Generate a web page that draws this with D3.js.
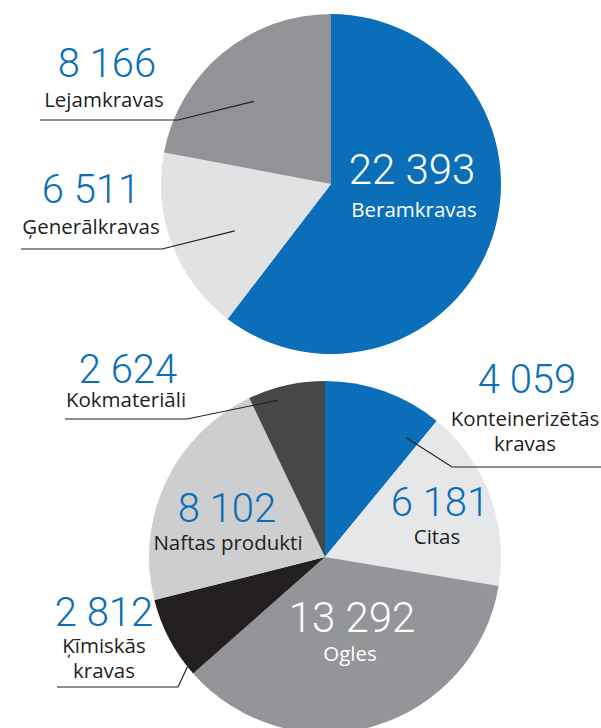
<!DOCTYPE html>
<html>
<head>
<meta charset="utf-8">
<script src="https://cdn.jsdelivr.net/npm/d3@7"></script>
<style>
  html, body { margin: 0; padding: 0; background: #fff; }
  svg { display: block; }
  .num { font-family: Roboto, "Open Sans", sans-serif; font-weight: 300; }
  .lab { font-family: "Open Sans", Roboto, sans-serif; font-weight: 400; }
</style>
</head>
<body>
<svg id="chart" width="601" height="728"></svg>
<script>
// ---- Data ----
const topCategories = ["Beramkravas", "Ģenerālkravas", "Lejamkravas"];
const topValues = [22393, 6511, 8166];
const topLabels = ["22 393", "6 511", "8 166"];

const bottomCategories = ["Konteinerizētās kravas", "Citas", "Ogles", "Ķīmiskās kravas", "Naftas produkti", "Kokmateriāli"];
const bottomValues = [4059, 6181, 13292, 2812, 8102, 2624];
const bottomLabels = ["4 059", "6 181", "13 292", "2 812", "8 102", "2 624"];

// ---- Styles / layout ----
const BLUE = "#0a6fb8";
const INK = "#231f20";
const topColors = [BLUE, "#e1e2e4", "#929397"];
const bottomColors = [BLUE, "#e6e7e9", "#939598", "#231f20", "#cdcecf", "#464749"];

const topPie = { cx: 331, cy: 184, r: 170 };
const bottomPie = { cx: 325, cy: 557, r: 176 };

const LS = 20.5; // label font size

// Label layout: number position, category text lines, colours, leader line (angle in deg, radius fraction, elbow, end x)
const topLayout = [
  { nx: 412, ny: 184, ns: 42, lines: ["Beramkravas"], ly: 217, lx: 414, ncol: "#fff", lcol: "#fff" },
  { nx: 91, ny: 203, ns: 40, lines: ["Ģenerālkravas"], ly: 234, lx: 91, ncol: BLUE, lcol: INK,
    leader: { ang: 244, rf: 0.63, ex: 162, ey: 249, endX: 21 } },
  { nx: 107, ny: 77, ns: 40, lines: ["Lejamkravas"], ly: 107, lx: 104, ncol: BLUE, lcol: INK,
    leader: { ang: 317, rf: 0.665, ex: 178, ey: 120, endX: 40 } }
];
const bottomLayout = [
  { nx: 527, ny: 393, ns: 40, lines: ["Konteinerizētās", "kravas"], ly: 426, lx: 525, lh: 25, ncol: BLUE, lcol: INK,
    leader: { ang: 34.3, rf: 0.82, ex: 452, ey: 467, endX: 601 } },
  { nx: 440, ny: 516, ns: 40, lines: ["Citas"], ly: 544, lx: 437, ncol: BLUE, lcol: INK },
  { nx: 352, ny: 632, ns: 42, lines: ["Ogles"], ly: 661, lx: 350, ncol: "#fff", lcol: "#fff" },
  { nx: 104, ny: 626, ns: 40, lines: ["Ķīmiskās", "kravas"], ly: 653, lx: 104, lh: 24.5, ncol: BLUE, lcol: INK,
    leader: { ang: 231.4, rf: 1.0, ex: 178, ey: 687, endX: 57 } },
  { nx: 227, ny: 522, ns: 40, lines: ["Naftas produkti"], ly: 550, lx: 228, ncol: BLUE, lcol: INK },
  { nx: 128, ny: 383, ns: 40, lines: ["Kokmateriāli"], ly: 407, lx: 126, ncol: BLUE, lcol: INK,
    leader: { ang: 343.3, rf: 0.93, ex: 187, ey: 419, endX: 65 } }
];

const svg = d3.select("#chart");

function drawPie(cats, vals, labels, colors, geo, layout) {
  const pie = d3.pie().sort(null).value(d => d)(vals);
  const arc = d3.arc().innerRadius(0).outerRadius(geo.r);
  const g = svg.append("g").attr("transform", `translate(${geo.cx},${geo.cy})`);
  g.selectAll("path").data(pie).join("path")
    .attr("d", arc)
    .attr("fill", (d, i) => colors[i]);

  const ann = svg.append("g");
  layout.forEach((L, i) => {
    if (L.leader) {
      const p = d3.pointRadial(L.leader.ang * Math.PI / 180, geo.r * L.leader.rf);
      const pts = [[geo.cx + p[0], geo.cy + p[1]], [L.leader.ex, L.leader.ey], [L.leader.endX, L.leader.ey]];
      ann.append("path")
        .attr("d", d3.line()(pts))
        .attr("fill", "none")
        .attr("stroke", INK)
        .attr("stroke-width", 1.2);
    }
    ann.append("text").attr("class", "num")
      .attr("x", L.nx).attr("y", L.ny)
      .attr("text-anchor", "middle")
      .attr("font-size", L.ns)
      .attr("fill", L.ncol)
      .text(labels[i]);
    L.lines.forEach((t, j) => {
      ann.append("text").attr("class", "lab")
        .attr("x", L.lx).attr("y", L.ly + j * (L.lh || 24))
        .attr("text-anchor", "middle")
        .attr("font-size", LS)
        .attr("fill", L.lcol)
        .text(t);
    });
  });
}

drawPie(topCategories, topValues, topLabels, topColors, topPie, topLayout);
drawPie(bottomCategories, bottomValues, bottomLabels, bottomColors, bottomPie, bottomLayout);
</script>
</body>
</html>
